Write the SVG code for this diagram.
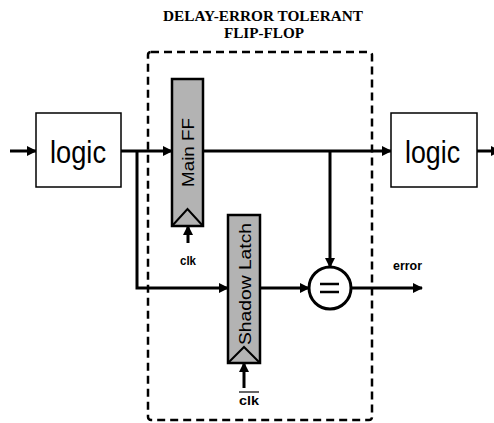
<svg xmlns="http://www.w3.org/2000/svg" width="494" height="423" viewBox="0 0 494 423">
<defs>
<marker id="ah" markerWidth="10" markerHeight="10" refX="9" refY="5" orient="auto" markerUnits="userSpaceOnUse">
<path d="M0,0 L10,5 L0,10 Z" fill="#000"/>
</marker>
<style>
.w{fill:none;stroke:#000;stroke-width:3}
.box{fill:#fff;stroke:#000;stroke-width:1.5}
.ff{fill:#b3b3b3;stroke:#000;stroke-width:2.5}
.tri{fill:none;stroke:#000;stroke-width:2}
.big{font-family:"Liberation Sans",Arial,sans-serif;font-size:32px;fill:#000}
.lbl{font-family:"Liberation Sans",Arial,sans-serif;font-size:17px;fill:#000}
.sm{font-family:"Liberation Sans",Arial,sans-serif;font-size:12px;font-weight:bold;fill:#000}
.title{font-family:"Liberation Serif","Times New Roman",serif;font-size:14.5px;font-weight:bold;fill:#000}
</style>
</defs>
<rect width="494" height="423" fill="#fff"/>
<text class="title" x="163" y="21" textLength="200" lengthAdjust="spacingAndGlyphs">DELAY-ERROR TOLERANT</text>
<text class="title" x="224" y="38" textLength="80" lengthAdjust="spacingAndGlyphs">FLIP-FLOP</text>
<rect id="boundary" x="148" y="52" width="224" height="368" rx="3" fill="none" stroke="#000" stroke-width="2.5" stroke-dasharray="8,5"/>
<g id="connectors">
<line class="w" x1="10" y1="151" x2="36" y2="151" marker-end="url(#ah)"/>
<line class="w" x1="121" y1="151" x2="172" y2="151" marker-end="url(#ah)"/>
<polyline class="w" points="137,151 137,288 228,288" marker-end="url(#ah)"/>
<line class="w" x1="203" y1="151" x2="391" y2="151" marker-end="url(#ah)"/>
<line class="w" x1="330" y1="151" x2="330" y2="267" marker-end="url(#ah)"/>
<line class="w" x1="260" y1="288" x2="309" y2="288" marker-end="url(#ah)"/>
<line class="w" x1="351" y1="288" x2="422" y2="288" marker-end="url(#ah)"/>
<line class="w" x1="477" y1="151" x2="500" y2="151" marker-end="url(#ah)"/>
<line class="w" x1="188" y1="243" x2="188" y2="226" marker-end="url(#ah)"/>
<line class="w" x1="244" y1="388" x2="244" y2="363" marker-end="url(#ah)"/>
</g>
<g id="logic-in">
<rect class="box" x="36" y="113" width="85" height="74"/>
<text class="big" x="50" y="163" textLength="56" lengthAdjust="spacingAndGlyphs">logic</text>
</g>
<g id="logic-out">
<rect class="box" x="391" y="113" width="86" height="74"/>
<text class="big" x="405" y="163" textLength="55" lengthAdjust="spacingAndGlyphs">logic</text>
</g>
<g id="main-ff">
<rect class="ff" x="172" y="79" width="31" height="147"/>
<polyline class="tri" points="172,226 187.5,209 203,226"/>
<text class="lbl" transform="translate(193.5,187) rotate(-90)" textLength="69" lengthAdjust="spacingAndGlyphs">Main FF</text>
<text class="sm" x="180" y="265" textLength="16" lengthAdjust="spacingAndGlyphs">clk</text>
</g>
<g id="shadow-latch">
<rect class="ff" x="228" y="215" width="32" height="148"/>
<polyline class="tri" points="228,363 244,347 260,363"/>
<text class="lbl" transform="translate(250.5,345) rotate(-90)" textLength="122" lengthAdjust="spacingAndGlyphs">Shadow Latch</text>
<text class="sm" x="239" y="405" textLength="20" lengthAdjust="spacingAndGlyphs">clk</text>
<line x1="239" y1="392" x2="259" y2="392" stroke="#000" stroke-width="1.2"/>
</g>
<g id="comparator">
<circle cx="330" cy="288" r="21" fill="#fff" stroke="#000" stroke-width="3"/>
<line x1="320" y1="284" x2="339" y2="284" stroke="#000" stroke-width="2.5"/>
<line x1="320" y1="292" x2="339" y2="292" stroke="#000" stroke-width="2.5"/>
</g>
<g id="error-label">
<text class="sm" x="393" y="270" textLength="29" lengthAdjust="spacingAndGlyphs">error</text>
</g>
</svg>
